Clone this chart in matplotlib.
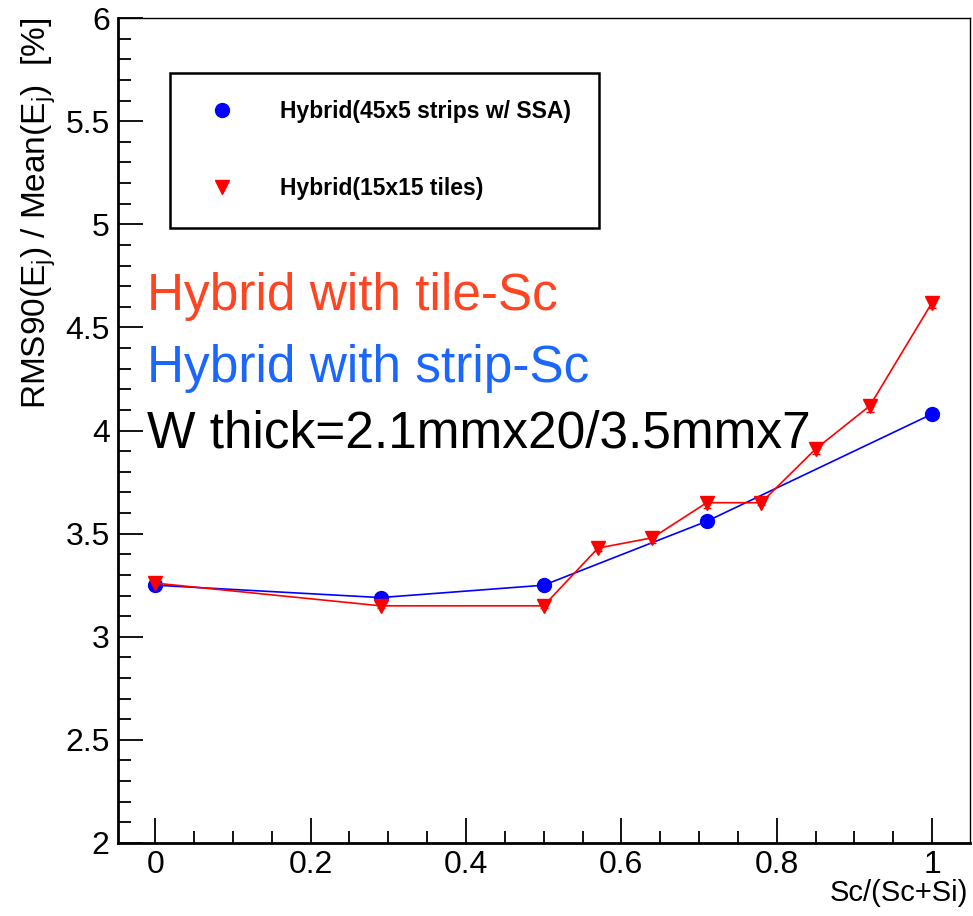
import matplotlib
matplotlib.use('Agg')
import matplotlib.pyplot as plt
from matplotlib.lines import Line2D
from matplotlib.ticker import MultipleLocator

# Strip-Sc hybrid (blue circles)
strip_x = [0.0, 0.29, 0.5, 0.71, 1.0]
strip_y = [3.25, 3.19, 3.25, 3.56, 4.08]
strip_err = [0.012, 0.012, 0.012, 0.015, 0.022]

# Tile-Sc hybrid (red triangles)
tile_x = [0.0, 0.29, 0.5, 0.57, 0.64, 0.71, 0.78, 0.85, 0.92, 1.0]
tile_y = [3.26, 3.15, 3.15, 3.43, 3.48, 3.65, 3.65, 3.91, 4.12, 4.62]
tile_err = [0.01, 0.01, 0.01, 0.012, 0.025, 0.025, 0.012, 0.025, 0.03, 0.025]

xtick_vals = [0, 0.2, 0.4, 0.6, 0.8, 1.0]
xtick_labels = ['0', '0.2', '0.4', '0.6', '0.8', '1']
ytick_vals = [2, 2.5, 3, 3.5, 4, 4.5, 5, 5.5, 6]
ytick_labels = ['2', '2.5', '3', '3.5', '4', '4.5', '5', '5.5', '6']

plt.rcParams['font.family'] = ['Liberation Sans', 'DejaVu Sans']
plt.rcParams['mathtext.fontset'] = 'custom'
plt.rcParams['mathtext.rm'] = 'Liberation Sans'

fig = plt.figure(figsize=(9.73, 9.16), dpi=100)
ax = fig.add_axes([0.1213, 0.0797, 0.8757, 0.9006])

ax.errorbar(strip_x, strip_y, yerr=strip_err, fmt='-o', color='#0000ff',
            ms=10, lw=1.2, capsize=3, elinewidth=1.2, zorder=3)
ax.errorbar(tile_x, tile_y, yerr=tile_err, fmt='-v', color='#ff0000',
            ms=10, lw=1.2, capsize=3, elinewidth=1.2, zorder=4)

ax.set_xlim(-0.048, 1.049)
ax.set_ylim(2, 6)
ax.xaxis.set_minor_locator(MultipleLocator(0.05))
ax.yaxis.set_minor_locator(MultipleLocator(0.1))
ax.set_xticks(xtick_vals)
ax.set_xticklabels(xtick_labels)
ax.set_yticks(ytick_vals)
ax.set_yticklabels(ytick_labels)
ax.tick_params(which='both', direction='in', top=False, right=False,
               labelsize=23, width=1.3)
ax.tick_params(which='major', length=18)
ax.tick_params(which='minor', length=9)
ax.tick_params(axis='x', pad=5)
ax.tick_params(axis='y', pad=6)
for side in ['top', 'right']:
    ax.spines[side].set_linewidth(1.0)
for side in ['left', 'bottom']:
    ax.spines[side].set_linewidth(2.0)

ax.set_xlabel('Sc/(Sc+Si)', fontsize=21, loc='right')
ax.xaxis.set_label_coords(0.998, -0.044)
ax.set_ylabel(r'RMS90(E$_{\rm j}$) / Mean(E$_{\rm j}$)  [%]', fontsize=24,
              loc='top')
ax.yaxis.set_label_coords(-0.070, 1.0)

handles = [Line2D([], [], ls='none', marker='o', color='#0000ff', ms=10),
           Line2D([], [], ls='none', marker='v', color='#ff0000', ms=10)]
leg = ax.legend(handles, ['Hybrid(45x5 strips w/ SSA)', 'Hybrid(15x15 tiles)'],
                loc='upper left', bbox_to_anchor=(0.0610, 0.9335),
                prop={'weight': 'bold', 'size': 16.5}, frameon=True,
                fancybox=False, edgecolor='black', handlelength=2.1,
                handletextpad=1.5, labelspacing=2.35, borderpad=1.2,
                borderaxespad=0, framealpha=1)
leg.get_frame().set_linewidth(1.8)

ax.text(0.034, 0.646, 'Hybrid with tile-Sc', transform=ax.transAxes,
        fontsize=37, color='#ff4422', va='baseline')
ax.text(0.034, 0.559, 'Hybrid with strip-Sc', transform=ax.transAxes,
        fontsize=37, color='#1a66ff', va='baseline')
ax.text(0.034, 0.480, 'W thick=2.1mmx20/3.5mmx7', transform=ax.transAxes,
        fontsize=37, color='black', va='baseline')

fig.savefig('out.png', dpi=100)
